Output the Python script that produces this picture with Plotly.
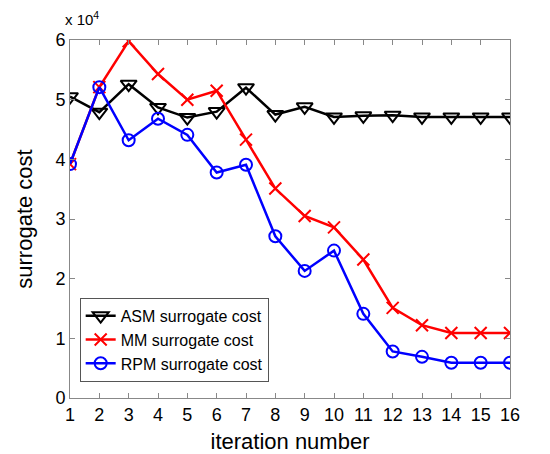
import plotly.graph_objects as go

iterations = list(range(1, 17))
asm_cost = [5.05, 4.79, 5.26, 4.87, 4.70, 4.80, 5.20, 4.75, 4.88, 4.71, 4.73, 4.74, 4.71, 4.71, 4.71, 4.71]
mm_cost = [3.92, 5.21, 5.98, 5.43, 5.00, 5.15, 4.33, 3.51, 3.05, 2.86, 2.32, 1.51, 1.22, 1.09, 1.09, 1.09]
rpm_cost = [3.92, 5.21, 4.32, 4.68, 4.41, 3.78, 3.91, 2.71, 2.13, 2.47, 1.41, 0.78, 0.69, 0.59, 0.59, 0.59]
y_ticks = [0, 1, 2, 3, 4, 5, 6]

fig = go.Figure()
fig.add_trace(go.Scatter(
    x=iterations, y=asm_cost, mode="lines+markers", name="ASM surrogate cost",
    line=dict(color="black", width=2.5),
    marker=dict(symbol="triangle-down-open", size=14, color="black", line=dict(width=2, color="black")),
))
fig.add_trace(go.Scatter(
    x=iterations, y=mm_cost, mode="lines+markers", name="MM surrogate cost",
    line=dict(color="red", width=2.5),
    marker=dict(symbol="x-thin-open", size=12, color="red", line=dict(width=2, color="red")),
))
fig.add_trace(go.Scatter(
    x=iterations, y=rpm_cost, mode="lines+markers", name="RPM surrogate cost",
    line=dict(color="blue", width=2.5),
    marker=dict(symbol="circle-open", size=12, color="blue", line=dict(width=2, color="blue")),
))

axis_common = dict(
    showline=True, linecolor="#888888", linewidth=1, mirror="ticks",
    ticks="inside", ticklen=5, tickcolor="#888888", showgrid=False, zeroline=False,
    tickfont=dict(family="Liberation Sans, Arial", size=18, color="black"),
)

fig.update_layout(
    width=550, height=454,
    margin=dict(l=62, r=48, t=32, b=57),
    paper_bgcolor="white", plot_bgcolor="white",
    font=dict(family="Liberation Sans, Arial", color="black"),
    xaxis=dict(range=[1, 16], tickvals=iterations, **axis_common,
               title=dict(text="iteration number", font=dict(size=22), standoff=10)),
    yaxis=dict(range=[0, 6], tickvals=y_ticks, **axis_common,
               title=dict(text="surrogate cost", font=dict(size=22), standoff=16)),
    legend=dict(x=0.022, y=0.28, xanchor="left", yanchor="top",
                bgcolor="white", bordercolor="#555555", borderwidth=1,
                font=dict(size=16), tracegroupgap=0, itemwidth=30),
    showlegend=True,
)
fig.add_annotation(text="x 10<sup>4</sup>", xref="paper", yref="paper", x=0.0, y=1.0,
                   xanchor="left", yanchor="bottom", xshift=-7, yshift=10, showarrow=False,
                   font=dict(size=15, color="black"))

fig.write_html("out.html")
